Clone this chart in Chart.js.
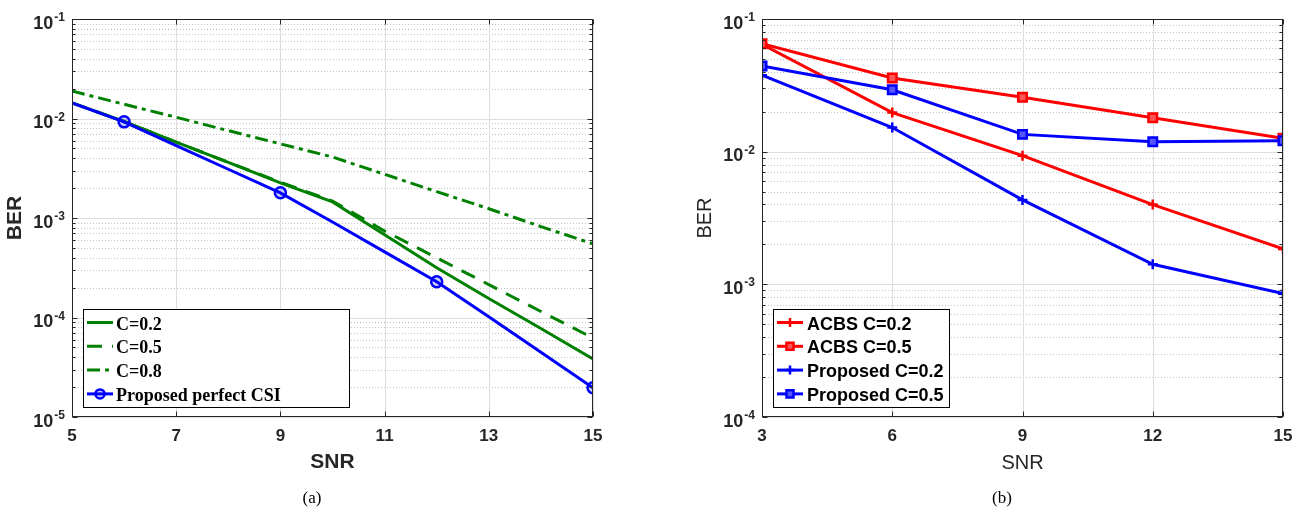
<!DOCTYPE html>
<html>
<head>
<meta charset="utf-8">
<title>BER vs SNR</title>
<script src="https://cdn.jsdelivr.net/npm/chart.js@4.4.0/dist/chart.umd.min.js"></script>
<style>
    body { margin: 0; background: #fff; }
    .panel { position: absolute; top: 0; }
    .caption {
        position: absolute; top: 488px; width: 60px; text-align: center;
        font: 17px 'Liberation Serif', 'Times New Roman', serif; color: #000;
    }
</style>
</head>
<body>
<canvas id="chartA" class="panel" style="left:0px" width="650" height="513"></canvas>
<canvas id="chartB" class="panel" style="left:650px" width="655" height="513"></canvas>
<div class="caption" style="left:282px">(a)</div>
<div class="caption" style="left:972px">(b)</div>
<script>
// (a) BER for different C vs perfect CSI
const snrA = [5, 6, 7, 8, 9, 10, 11, 12, 13, 14, 15];
const berC02 = [0.01436, 0.00933, 0.00578, 0.00363, 0.00225, 0.00145, 0.00068, 0.000316, 0.000155, 0.0000776, 0.0000383];
const berC05 = [0.01436, 0.00933, 0.00578, 0.00363, 0.00229, 0.00148, 0.00074, 0.000398, 0.000214, 0.000115, 0.0000622];
const berC08 = [0.0189, 0.0139, 0.0103, 0.00755, 0.00556, 0.0041, 0.00275, 0.00184, 0.00124, 0.00082, 0.00055];
const berPerfect = [0.01436, 0.00925, 0.00535, 0.00309, 0.00179, 0.000912, 0.000457, 0.000229, 0.000102, 0.0000447, 0.0000197];
const perfectMarkerSnr = [6, 9, 12, 15];
const xTicksA = [5, 7, 9, 11, 13, 15];
const yExpA = [-5, -4, -3, -2, -1];

// (b) ACBS vs proposed
const snrB = [3, 6, 9, 12, 15];
const acbsC02 = [0.0644, 0.0197, 0.00933, 0.00399, 0.00185];
const acbsC05 = [0.0650, 0.0359, 0.0257, 0.0180, 0.0126];
const propC02 = [0.0377, 0.0152, 0.00433, 0.001415, 0.000851];
const propC05 = [0.0443, 0.0293, 0.0135, 0.0119, 0.0121];
const xTicksB = [3, 6, 9, 12, 15];
const yExpB = [-4, -3, -2, -1];

const SANS = "'Liberation Sans', Arial, sans-serif";
const SERIF = "'Liberation Serif', 'Times New Roman', serif";
const AXIS_COLOR = '#262626';

function points(xs, ys) {
    return xs.map((x, i) => ({ x, y: ys[i] }));
}

function hline(ctx, x0, x1, y) {
    ctx.beginPath();
    ctx.moveTo(x0, y);
    ctx.lineTo(x1, y);
    ctx.stroke();
}

function vline(ctx, x, y0, y1) {
    ctx.beginPath();
    ctx.moveTo(x, y0);
    ctx.lineTo(x, y1);
    ctx.stroke();
}

// grid, box, inward ticks, 10^n labels and the boxed legend, matlab style
function makeAxesPlugin(cfg) {
    const minorValues = [];
    for (let e = cfg.yExp[0]; e < cfg.yExp[cfg.yExp.length - 1]; e++) {
        for (let m = 2; m <= 9; m++) minorValues.push(m * Math.pow(10, e));
    }

    return {
        id: 'matlabAxes',
        beforeDatasetsDraw(chart) {
            const { ctx, chartArea: a, scales: { x, y } } = chart;
            ctx.save();
            ctx.lineWidth = 1;

            // dotted minor grid
            ctx.strokeStyle = '#c2c2c2';
            ctx.setLineDash([1, 2]);
            minorValues.forEach(v => {
                hline(ctx, a.left, a.right, Math.round(y.getPixelForValue(v)) + 0.5);
            });

            // solid major grid
            ctx.setLineDash([]);
            ctx.strokeStyle = '#dedede';
            cfg.yExp.forEach(e => {
                hline(ctx, a.left, a.right, Math.round(y.getPixelForValue(Math.pow(10, e))) + 0.5);
            });
            cfg.xTicks.forEach(v => {
                vline(ctx, Math.round(x.getPixelForValue(v)) + 0.5, a.top, a.bottom);
            });
            ctx.restore();
        },
        afterDraw(chart) {
            const { ctx, chartArea: a, scales: { x, y } } = chart;
            ctx.save();
            ctx.strokeStyle = AXIS_COLOR;
            ctx.lineWidth = 1;
            ctx.setLineDash([]);
            const L = Math.round(a.left) + 0.5, R = Math.round(a.right) - 0.5;
            const T = Math.round(a.top) + 0.5, B = Math.round(a.bottom) - 0.5;
            ctx.strokeRect(L, T, R - L, B - T);

            // inward ticks
            cfg.xTicks.forEach(v => {
                const px = Math.round(x.getPixelForValue(v)) + 0.5;
                vline(ctx, px, B, B - 5);
                vline(ctx, px, T, T + 5);
            });
            cfg.yExp.forEach(e => {
                const py = Math.round(y.getPixelForValue(Math.pow(10, e))) + 0.5;
                hline(ctx, L, L + 5, py);
                hline(ctx, R, R - 5, py);
            });
            minorValues.forEach(v => {
                const py = Math.round(y.getPixelForValue(v)) + 0.5;
                hline(ctx, L, L + 3, py);
                hline(ctx, R, R - 3, py);
            });

            // 10^n tick labels
            ctx.fillStyle = AXIS_COLOR;
            ctx.textBaseline = 'alphabetic';
            ctx.textAlign = 'right';
            cfg.yExp.forEach(e => {
                const py = y.getPixelForValue(Math.pow(10, e));
                const exp = String(e);
                const right = a.left - 7;
                ctx.font = `bold 12px ${SANS}`;
                const ew = ctx.measureText(exp).width;
                ctx.fillText(exp, right, py + 2);
                ctx.font = `bold 18px ${SANS}`;
                ctx.fillText('10', right - ew - 1, py + 9.5);
            });

            // legend
            const lg = cfg.legend;
            ctx.fillStyle = '#fff';
            ctx.fillRect(lg.left, lg.top, lg.right - lg.left, lg.bottom - lg.top);
            ctx.strokeStyle = '#000';
            ctx.strokeRect(lg.left + 0.5, lg.top + 0.5, lg.right - lg.left, lg.bottom - lg.top);
            ctx.textAlign = 'left';
            ctx.font = lg.font;
            chart.data.datasets.forEach((ds, i) => {
                const ry = lg.firstRow + i * lg.rowGap;
                ctx.strokeStyle = ds.borderColor;
                ctx.lineWidth = ds.borderWidth;
                ctx.setLineDash(ds.borderDash || []);
                hline(ctx, lg.sampleLeft, lg.sampleRight, ry);
                ctx.setLineDash([]);
                if (ds.pointStyle) {
                    ctx.fillStyle = ds.pointBackgroundColor;
                    ctx.lineWidth = ds.pointBorderWidth;
                    Chart.helpers.drawPoint(ctx, {
                        pointStyle: ds.pointStyle,
                        rotation: 0,
                        radius: lg.markerRadius[ds.pointStyle] || 4,
                        borderWidth: ds.pointBorderWidth
                    }, (lg.sampleLeft + lg.sampleRight) / 2, ry);
                }
                ctx.fillStyle = '#000';
                ctx.fillText(ds.label, lg.textLeft, ry + 7);
            });
            ctx.restore();
        }
    };
}

function makeChart(canvasId, cfg) {
    const { width, height, area } = cfg;
    const datasets = cfg.datasets.map((ds, i) => Object.assign({
        borderWidth: 3,
        pointRadius: 0,
        tension: 0,
        fill: false,
        order: cfg.datasets.length - i
    }, ds));

    return new Chart(document.getElementById(canvasId), {
        type: 'line',
        data: { datasets },
        options: {
            responsive: false,
            animation: false,
            events: [],
            layout: { padding: { left: 0, top: area.top, right: width - area.right, bottom: 0 } },
            plugins: { legend: { display: false }, tooltip: { enabled: false } },
            scales: {
                x: {
                    type: 'linear',
                    min: cfg.xTicks[0],
                    max: cfg.xTicks[cfg.xTicks.length - 1],
                    afterBuildTicks: axis => { axis.ticks = cfg.xTicks.map(v => ({ value: v })); },
                    afterFit: axis => { axis.height = height - area.bottom; },
                    grid: { display: false, drawTicks: false },
                    border: { display: false },
                    ticks: {
                        autoSkip: false, maxRotation: 0, padding: 9, color: AXIS_COLOR,
                        font: { family: SANS, size: 17, weight: 'bold' }
                    },
                    title: {
                        display: true, text: 'SNR', color: AXIS_COLOR,
                        font: cfg.titleFont, padding: { top: 0, bottom: 38 }
                    }
                },
                y: {
                    type: 'logarithmic',
                    min: Math.pow(10, cfg.yExp[0]),
                    max: Math.pow(10, cfg.yExp[cfg.yExp.length - 1]),
                    afterFit: axis => { axis.width = area.left; },
                    grid: { display: false, drawTicks: false },
                    border: { display: false },
                    ticks: { display: false },
                    title: {
                        display: true, text: 'BER', color: AXIS_COLOR,
                        font: cfg.titleFont, padding: { top: cfg.yTitleOffset, bottom: 0 }
                    }
                }
            }
        },
        plugins: [makeAxesPlugin(cfg)]
    });
}

const GREEN = '#008000', BLUE = '#0000ff', RED = '#ff0000';

makeChart('chartA', {
    width: 650, height: 513,
    area: { left: 72, top: 19, right: 593, bottom: 417 },
    xTicks: xTicksA,
    yExp: yExpA,
    titleFont: { family: SANS, size: 21, weight: 'bold' },
    yTitleOffset: 3,
    legend: {
        left: 83, top: 309, right: 349, bottom: 407,
        firstRow: 322.5, rowGap: 23.8,
        sampleLeft: 87, sampleRight: 113, textLeft: 116,
        font: `bold 18px ${SERIF}`,
        markerRadius: { circle: 4.5 }
    },
    datasets: [
        { label: 'C=0.2', data: points(snrA, berC02), borderColor: GREEN },
        { label: 'C=0.5', data: points(snrA, berC05), borderColor: GREEN, borderDash: [15, 10] },
        { label: 'C=0.8', data: points(snrA, berC08), borderColor: GREEN, borderDash: [13, 5, 4, 5] },
        {
            label: 'Proposed perfect CSI', data: points(snrA, berPerfect), borderColor: BLUE,
            pointStyle: 'circle', pointBorderWidth: 2.5,
            pointBorderColor: BLUE, pointBackgroundColor: 'rgba(0,0,255,0.2)',
            pointRadius: snrA.map(s => perfectMarkerSnr.includes(s) ? 5.5 : 0)
        }
    ]
});

makeChart('chartB', {
    width: 655, height: 513,
    area: { left: 112, top: 19, right: 633, bottom: 417 },
    xTicks: xTicksB,
    yExp: yExpB,
    titleFont: { family: SANS, size: 20, weight: 'normal' },
    yTitleOffset: 43,
    legend: {
        left: 123, top: 309, right: 299, bottom: 407,
        firstRow: 322.5, rowGap: 23.8,
        sampleLeft: 127, sampleRight: 153, textLeft: 157,
        font: `bold 18px ${SANS}`,
        markerRadius: { cross: 4.5, rect: 5 }
    },
    datasets: [
        {
            label: 'ACBS C=0.2', data: points(snrB, acbsC02), borderColor: RED,
            pointStyle: 'cross', pointRadius: 5, pointBorderWidth: 2.5,
            pointBorderColor: RED, pointBackgroundColor: RED
        },
        {
            label: 'ACBS C=0.5', data: points(snrB, acbsC05), borderColor: RED,
            pointStyle: 'rect', pointRadius: 6, pointBorderWidth: 2.5,
            pointBorderColor: RED, pointBackgroundColor: '#ff5555'
        },
        {
            label: 'Proposed C=0.2', data: points(snrB, propC02), borderColor: BLUE,
            pointStyle: 'cross', pointRadius: 5, pointBorderWidth: 2.5,
            pointBorderColor: BLUE, pointBackgroundColor: BLUE
        },
        {
            label: 'Proposed C=0.5', data: points(snrB, propC05), borderColor: BLUE,
            pointStyle: 'rect', pointRadius: 6, pointBorderWidth: 2.5,
            pointBorderColor: BLUE, pointBackgroundColor: '#5555ff'
        }
    ]
});
</script>
</body>
</html>
